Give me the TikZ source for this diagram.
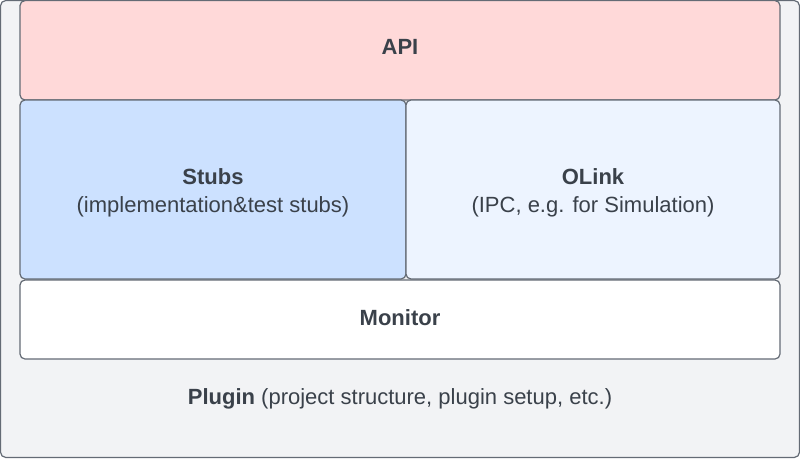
\documentclass[tikz,border=0pt]{standalone}
\usepackage{fontspec}
\setmainfont{Liberation Sans}
\definecolor{outerfill}{HTML}{F2F3F5}
\definecolor{edge}{HTML}{646B75}
\definecolor{apifill}{HTML}{FFD9D9}
\definecolor{stubfill}{HTML}{CCE1FF}
\definecolor{olinkfill}{HTML}{EDF4FF}
\definecolor{txt}{HTML}{3A414A}
\begin{document}
\begin{tikzpicture}[x=1pt,y=-1pt,
  box/.style={draw=edge,line width=1.2pt,rounded corners=5pt},
  lbl/.style={text=txt,font=\fontsize{22}{28}\selectfont,align=center}]
\useasboundingbox (0,0) rectangle (800,458);
\path[box,fill=outerfill] (0.6,0.6) rectangle (799.4,457.4);
\path[box,fill=apifill] (20,0.6) rectangle (780,100);
\path[box,fill=stubfill] (20,100) rectangle (406,279);
\path[box,fill=olinkfill] (406,100) rectangle (780,279);
\path[box,fill=white] (20,280) rectangle (780,359);
\node[lbl] (api) at (400,47) {\textbf{API}};
\node[lbl] (stubs) at (213,192.5) {\textbf{Stubs}\\(implementation\&test stubs)};
\node[lbl] (olink) at (593,192.5) {\textbf{OLink}\\(IPC, e.g. for Simulation)};
\node[lbl] (monitor) at (400,317.5) {\textbf{Monitor}};
\node[lbl] (plugin) at (400,399) {\textbf{Plugin} (project structure, plugin setup, etc.)};
\end{tikzpicture}
\end{document}
